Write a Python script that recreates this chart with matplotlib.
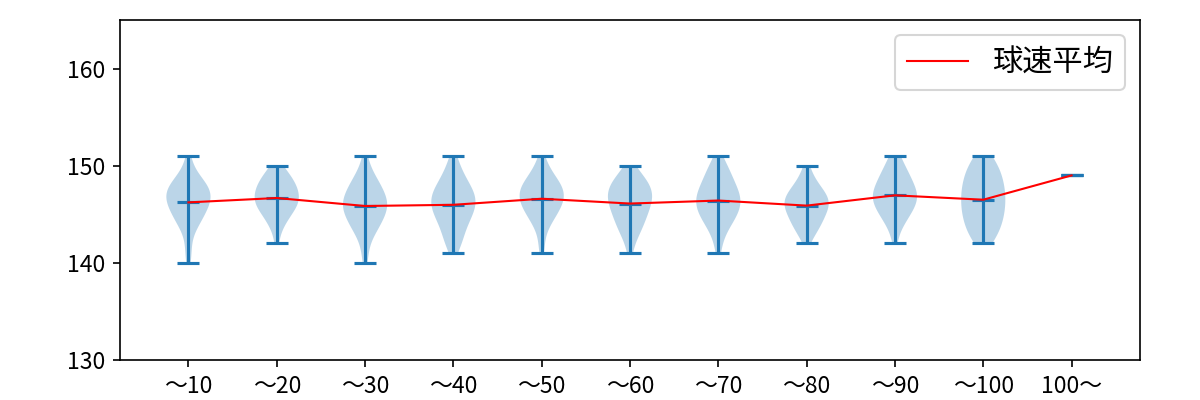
# import libraries
import numpy as np
import matplotlib
matplotlib.use('agg')
import matplotlib.pyplot as plt
from matplotlib import cbook, mlab

plt.rcParams['font.family'] = ['Noto Sans CJK JP', 'DejaVu Sans']

# pitch count bins and speed counts (km/h)
labels = ['～10', '～20', '～30', '～40', '～50', '～60', '～70', '～80', '～90', '～100', '100～']
speeds = np.arange(140, 152)  # 140 ... 151
counts_10 = [1, 1, 1, 1, 4, 5, 7, 8, 7, 3, 1, 1]
counts_20 = [0, 0, 1, 1, 3, 5, 8, 8, 7, 5, 2, 0]
counts_30 = [1, 1, 1, 3, 5, 6, 8, 6, 5, 3, 1, 1]
counts_40 = [0, 1, 3, 3, 4, 6, 7, 7, 5, 3, 2, 1]
counts_50 = [0, 1, 1, 1, 3, 5, 7, 8, 7, 4, 2, 1]
counts_60 = [0, 1, 1, 3, 4, 5, 6, 7, 6, 4, 1, 0]
counts_70 = [0, 1, 1, 2, 4, 6, 7, 7, 5, 4, 3, 1]
counts_80 = [0, 0, 1, 3, 5, 6, 8, 7, 4, 2, 1, 0]
counts_90 = [0, 0, 1, 1, 3, 5, 7, 8, 6, 5, 3, 2]
counts_100 = [0, 0, 2, 4, 4, 5, 5, 5, 5, 4, 4, 2]
over_100 = [149]


def kde(x, coords):
    # a single pitch has no spread, so no body
    if np.ptp(x) == 0:
        return np.zeros_like(coords)
    return mlab.GaussianKDE(x, 'scott').evaluate(coords)


count_lists = [counts_10, counts_20, counts_30, counts_40, counts_50,
               counts_60, counts_70, counts_80, counts_90, counts_100]
samples = [np.repeat(speeds, c) for c in count_lists] + [np.array(over_100, dtype=float)]
stats = cbook.violin_stats(samples, kde)
positions = np.arange(1, len(labels) + 1)

fig, ax = plt.subplots(figsize=(8, 8 / 3), dpi=150)
fig.subplots_adjust(left=0.1, right=0.95, bottom=0.1, top=0.95)

with np.errstate(invalid='ignore', divide='ignore'):
    ax.violin(stats, positions=positions, showmeans=True)

means = [s['mean'] for s in stats]
ax.plot(positions, means, color='red', lw=1, label='球速平均')

ax.set_xticks(positions)
ax.set_xticklabels(labels)
ax.set_yticks([130, 140, 150, 160])
ax.tick_params(labelsize=11)
ax.set_ylim(130, 165)
ax.set_xlim(0.225, 11.775)
ax.legend(loc='upper right', fontsize=14.5)

fig.savefig('out.png', dpi=150)
plt.close()
